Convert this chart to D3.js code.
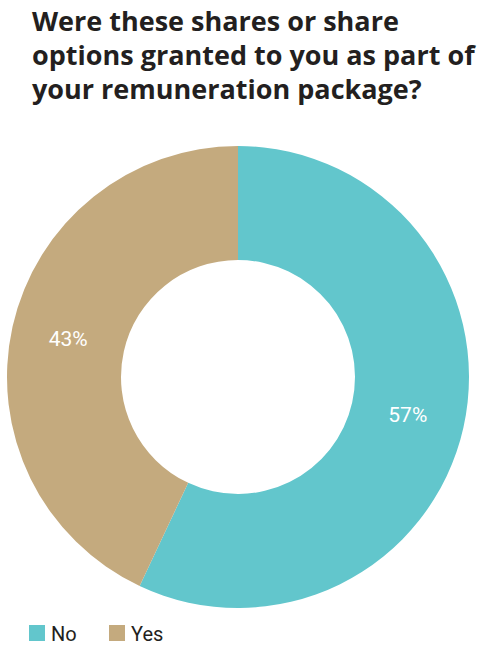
<!DOCTYPE html><html><head><meta charset="utf-8">
<script src="https://cdn.jsdelivr.net/npm/d3@7"></script>
<style>body{margin:0;background:#fff}</style></head><body>
<svg id="c" width="480" height="647"></svg>
<script>
const titleLines=["Were these shares or share","options granted to you as part of","your remuneration package?"];
const categories=["No","Yes"];
const values=[57,43];
const colors=["#62C6CC","#C4AA7E"];
const svg=d3.select("#c");
svg.selectAll("text.t").data(titleLines).join("text").attr("class","t")
 .attr("x",32).attr("y",(d,i)=>31+i*34).attr("font-family","'Open Sans',sans-serif")
 .attr("font-weight","bold").attr("font-size",27).attr("fill","#231f20").text(d=>d);
const cx=238,cy=377,R=231,r=117;
const pie=d3.pie().sort(null).value(d=>d)(values);
const arc=d3.arc().innerRadius(r).outerRadius(R);
const g=svg.append("g").attr("transform",`translate(${cx},${cy})`);
g.selectAll("path").data(pie).join("path").attr("d",arc).attr("fill",(d,i)=>colors[i]);
const la=d3.arc().innerRadius(174).outerRadius(174);
g.selectAll("text").data(pie).join("text").attr("transform",d=>`translate(${la.centroid(d)})`)
 .attr("text-anchor","middle").attr("dy","0.35em").attr("fill","#fff")
 .attr("font-family","Roboto,sans-serif").attr("font-size",21).text(d=>d.data+"%");
const lg=svg.append("g");
const lx=[29,109];
categories.forEach((c,i)=>{
 lg.append("rect").attr("x",lx[i]).attr("y",625).attr("width",16).attr("height",16).attr("fill",colors[i]);
 lg.append("text").attr("x",lx[i]+22).attr("y",641).attr("font-family","Roboto,sans-serif").attr("font-size",20).attr("fill","#231f20").text(c);
});
</script></body></html>
